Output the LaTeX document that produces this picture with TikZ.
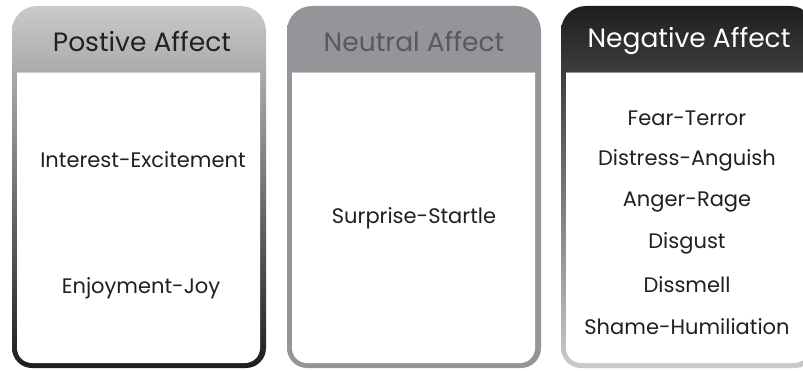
\documentclass[tikz,border=0pt]{standalone}
\usepackage{fontspec}
\setmainfont{Poppins}
\definecolor{paleGray}{HTML}{C9CACC}
\definecolor{inkDark}{HTML}{1E1E1E}
\definecolor{midGray}{HTML}{939598}
\definecolor{titleGray}{HTML}{58595B}
\definecolor{bodyInk}{HTML}{231F20}
\tikzset{
  headtext/.style={font=\fontsize{26.5}{30}\selectfont, anchor=center},
  itemtext/.style={font=\fontsize{21}{25}\selectfont, text=bodyInk, anchor=center},
}
% #1 left x, #2 right x, #3 top colour, #4 bottom colour
\newcommand\affectpanel[4]{%
  \path[top color=#3, bottom color=#4]
    (#1,22) -- (#1,339) arc[start angle=180, end angle=90, radius=25]
    -- ({#2-25},364) arc[start angle=90, end angle=0, radius=25]
    -- (#2,22) arc[start angle=0, end angle=-90, radius=20]
    -- ({#1+20},2) arc[start angle=270, end angle=180, radius=20] -- cycle;
  \fill[white]
    ({#1+5},297) -- ({#1+5},22) arc[start angle=180, end angle=270, radius=15]
    -- ({#2-6-15},7) arc[start angle=270, end angle=360, radius=15]
    -- ({#2-6},297) -- cycle;
  \draw[white, opacity=0.35, line width=0.8pt] ({#1+5},297.5) -- ({#2-6},297.5);
}
\begin{document}
\begin{tikzpicture}[x=1pt, y=1pt]
  \useasboundingbox (0,0) rectangle (803,370);
  \clip (0,0) rectangle (803,370);
  \fill[white] (0,0) rectangle (803,370);

  \affectpanel{12}{266}{paleGray}{inkDark}
  \affectpanel{287}{541}{midGray}{midGray}
  \affectpanel{561}{815}{inkDark}{paleGray}

  % headers
  \node[headtext, text=bodyInk] (posHead) at (142,329) {Postive Affect};
  \node[headtext, text=titleGray] (neuHead) at (414,329) {Neutral Affect};
  \node[headtext, text=white] (negHead) at (689,329) {Negative Affect};

  % positive affects
  \node[itemtext] (interest) at (143,210) {Interest-Excitement};
  \node[itemtext] (enjoy) at (141,82) {Enjoyment-Joy};

  % neutral affect
  \node[itemtext] (surprise) at (414,152) {Surprise-Startle};

  % negative affects
  \node[itemtext] (fear) at (687,252) {Fear-Terror};
  \node[itemtext] (distress) at (687,210) {Distress-Anguish};
  \node[itemtext] (anger) at (687,168) {Anger-Rage};
  \node[itemtext] (disgust) at (687,127) {Disgust};
  \node[itemtext] (dissmell) at (687,85) {Dissmell};
  \node[itemtext] (shame) at (687,43) {Shame-Humiliation};
\end{tikzpicture}
\end{document}
